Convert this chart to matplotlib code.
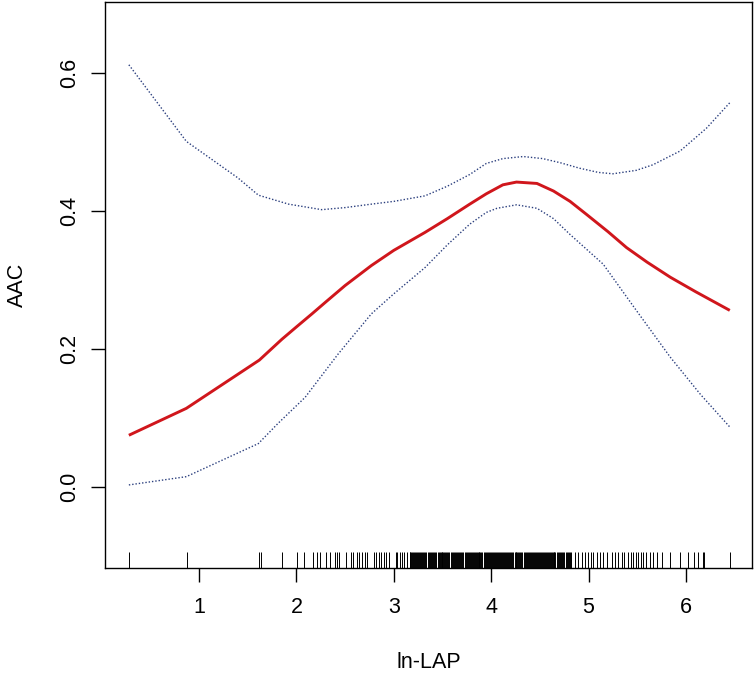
import matplotlib
matplotlib.use("Agg")
import matplotlib.pyplot as plt
from matplotlib.transforms import blended_transform_factory

# ── values ───────────────────────────────────────────────────────────────────
fit_x = [0.28, 0.87, 1.62, 1.85, 2.00, 2.16, 2.30, 2.50, 2.77, 3.00, 3.32,
         3.55, 3.78, 3.95, 4.12, 4.26, 4.47, 4.64, 4.81, 4.98, 5.20, 5.39,
         5.60, 5.84, 6.10, 6.45]
fit_y = [0.075, 0.114, 0.184, 0.214, 0.232, 0.251, 0.268, 0.292, 0.321, 0.343,
         0.369, 0.389, 0.410, 0.425, 0.438, 0.442, 0.440, 0.429, 0.414, 0.395,
         0.370, 0.347, 0.326, 0.304, 0.283, 0.256]

upper_x = [0.28, 0.87, 1.06, 1.40, 1.61, 1.92, 2.26, 2.50, 2.77, 3.00, 3.32,
           3.55, 3.78, 3.95, 4.12, 4.33, 4.53, 4.71, 4.91, 5.10, 5.25, 5.49,
           5.66, 5.94, 6.21, 6.45]
upper_y = [0.612, 0.501, 0.482, 0.448, 0.423, 0.410, 0.402, 0.405, 0.410,
           0.414, 0.422, 0.436, 0.453, 0.469, 0.476, 0.479, 0.476, 0.470,
           0.462, 0.456, 0.454, 0.459, 0.467, 0.487, 0.520, 0.557]

lower_x = [0.28, 0.87, 1.61, 1.81, 2.09, 2.43, 2.77, 3.00, 3.32, 3.55, 3.78,
           3.95, 4.06, 4.26, 4.47, 4.64, 4.81, 5.15, 5.49, 5.84, 6.15, 6.45]
lower_y = [0.003, 0.015, 0.063, 0.092, 0.130, 0.193, 0.251, 0.280, 0.318,
           0.351, 0.381, 0.398, 0.404, 0.409, 0.404, 0.389, 0.366, 0.323,
           0.256, 0.188, 0.134, 0.087]

rug_x = [
    0.281, 0.874, 1.616, 1.633, 1.849, 2.003, 2.078, 2.173, 2.207, 2.242,
    2.300, 2.344, 2.396, 2.420, 2.440, 2.510, 2.557, 2.584, 2.619, 2.646,
    2.670, 2.704, 2.720, 2.795, 2.822, 2.850, 2.873, 2.897, 2.925, 2.950,
    3.020, 3.037, 3.060, 3.085, 3.110, 3.136, 3.163,
    3.17, 3.18, 3.19, 3.20, 3.21, 3.22, 3.23, 3.24, 3.25, 3.26,
    3.27, 3.28, 3.29, 3.30, 3.31, 3.32, 3.33, 3.35, 3.36, 3.37,
    3.38, 3.39, 3.40, 3.41, 3.42, 3.43, 3.45, 3.46, 3.47, 3.48,
    3.49, 3.50, 3.51, 3.52, 3.53, 3.54, 3.55, 3.56, 3.57, 3.59,
    3.60, 3.61, 3.62, 3.63, 3.64, 3.65, 3.66, 3.67, 3.68, 3.69,
    3.70, 3.71, 3.73, 3.74, 3.75, 3.76, 3.77, 3.78, 3.79, 3.80,
    3.81, 3.82, 3.83, 3.84, 3.85, 3.86, 3.87, 3.88, 3.89, 3.90,
    3.91, 3.93, 3.94, 3.95, 3.96, 3.97, 3.98, 3.99, 4.00, 4.01,
    4.02, 4.03, 4.04, 4.05, 4.06, 4.07, 4.08, 4.09, 4.10, 4.11,
    4.12, 4.13, 4.14, 4.15, 4.16, 4.17, 4.18, 4.19, 4.20, 4.21,
    4.22, 4.24, 4.25, 4.26, 4.27, 4.28, 4.29, 4.30, 4.31, 4.32,
    4.34, 4.35, 4.36, 4.37, 4.38, 4.39, 4.40, 4.41, 4.42, 4.43,
    4.44, 4.45, 4.46, 4.47, 4.48, 4.49, 4.50, 4.51, 4.52, 4.53,
    4.54, 4.55, 4.56, 4.57, 4.58, 4.59, 4.60, 4.61, 4.62, 4.63,
    4.64, 4.65, 4.66, 4.68, 4.69, 4.70, 4.71, 4.72, 4.73, 4.74,
    4.75, 4.77, 4.78, 4.79, 4.80, 4.81, 4.82,
    4.860, 4.894, 4.929, 4.963, 4.997, 5.021, 5.048, 5.083, 5.117, 5.151,
    5.192, 5.237, 5.271, 5.305, 5.340, 5.363, 5.408, 5.432, 5.459, 5.487,
    5.510, 5.535, 5.562, 5.589, 5.630, 5.665, 5.706, 5.751, 5.836, 5.940,
    6.024, 6.082, 6.127, 6.170, 6.185, 6.452,
]

x_ticks = [1, 2, 3, 4, 5, 6]
y_ticks = [0.0, 0.2, 0.4, 0.6]
x_label = "ln-LAP"
y_label = "AAC"

# ── figure ────────────────────────────────────────────────────────────────────
plt.rcParams["font.family"] = ["Liberation Sans", "DejaVu Sans"]

fig = plt.figure(figsize=(7.56, 6.74), dpi=100)
ax = fig.add_axes([105 / 756, 1 - 568 / 674, 647 / 756, 566 / 674])

dotted = (0, (1, 1.4))
ax.plot(upper_x, upper_y, color="#2b3f7e", lw=1.0, linestyle=dotted)
ax.plot(lower_x, lower_y, color="#2b3f7e", lw=1.0, linestyle=dotted)
ax.plot(fit_x, fit_y, color="#d0161c", lw=2.1, solid_capstyle="butt")

# rug along the bottom edge
trans = blended_transform_factory(ax.transData, ax.transAxes)
ax.vlines(rug_x, 0, 0.028, transform=trans, color="black", lw=0.7)

ax.set_xlim(0.035, 6.678)
ax.set_ylim(-0.1174, 0.703)
ax.set_xticks(x_ticks)
ax.set_yticks(y_ticks)
ax.set_yticklabels([f"{v:.1f}" for v in y_ticks], rotation=90, va="center")

for s in ax.spines.values():
    s.set_linewidth(1.0)
ax.tick_params(length=10, width=1.0, labelsize=15.5)
ax.tick_params(axis="x", pad=11)
ax.tick_params(axis="y", pad=8)
ax.set_xlabel(x_label, fontsize=15.5, labelpad=24)
ax.set_ylabel(y_label, fontsize=15.5, labelpad=22)

fig.savefig("out.png", dpi=100)
